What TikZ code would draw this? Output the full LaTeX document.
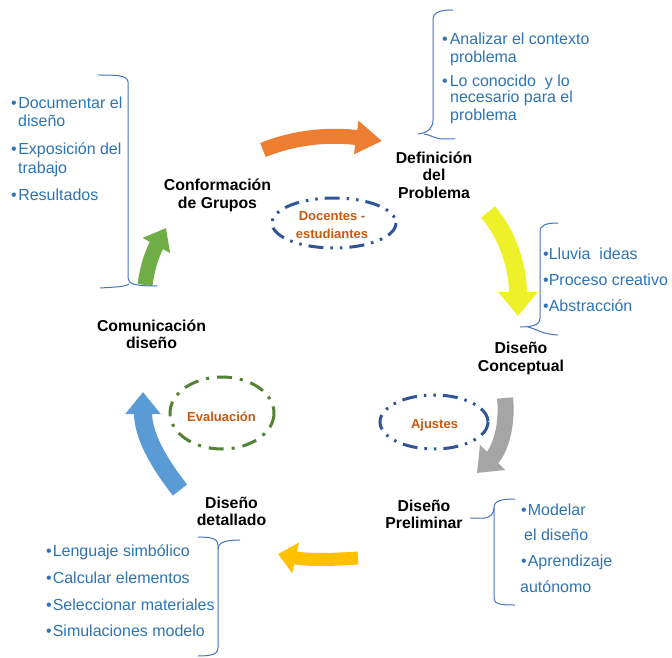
\documentclass[tikz,border=0pt]{standalone}
\usepackage{fontspec}
\setmainfont{Liberation Sans}
\usetikzlibrary{arrows.meta}
\definecolor{txtblue}{HTML}{2E74B5}
\definecolor{brc}{HTML}{4472C4}
\definecolor{ellblue}{HTML}{2F5597}
\definecolor{ellgreen}{HTML}{548235}
\definecolor{lblorange}{HTML}{C55A11}
\definecolor{arrorange}{HTML}{ED7D31}
\definecolor{arryellow}{HTML}{EEF02A}
\definecolor{arrgray}{HTML}{A5A5A5}
\definecolor{arrgold}{HTML}{FFC000}
\definecolor{arrblue}{HTML}{5B9BD5}
\definecolor{arrgreen}{HTML}{70AD47}
\begin{document}
\begin{tikzpicture}[x=1pt,y=-1pt,
 item/.style={font=\fontsize{16}{19}\selectfont, text=txtblue, anchor=base west, inner sep=0pt},
 lbl/.style={font=\bfseries\fontsize{15.8}{18}\selectfont, anchor=base, inner sep=0pt},
 elbl/.style={font=\bfseries\fontsize{13}{15}\selectfont, text=lblorange, anchor=base, inner sep=0pt},
 brace/.style={draw=brc, line width=1pt},
 ellb/.style={draw=ellblue, line width=3pt, dash pattern=on 15pt off 7pt on 2.5pt off 7pt on 2.5pt off 7pt},
 ellg/.style={draw=ellgreen, line width=3pt, dash pattern=on 15pt off 8pt on 3pt off 8pt},
]
\useasboundingbox[fill=white] (0,0) rectangle (672,658);

% ---- arrows ----
\draw[arrorange, line width=15pt, -{Triangle[length=26pt,width=32pt]}] (263,150) .. controls (295,137) and (330,134) .. (382,141);
\draw[arryellow, line width=18pt, -{Triangle[length=24pt,width=38pt]}] (488,212) .. controls (508,235) and (518,268) .. (518,316);
\draw[arrgray, line width=16pt, -{Triangle[length=22pt,width=34pt]}] (505,398) .. controls (508,425) and (500,450) .. (477,473);
\draw[arrgold, line width=13pt, -{Triangle[length=18pt,width=30pt]}] (358,558) .. controls (330,560) and (305,560) .. (278,554);
\draw[arrblue, line width=18pt, -{Triangle[length=22pt,width=34pt]}] (180,490) .. controls (158,462) and (143,435) .. (143,392);
\draw[arrgreen, line width=15pt, -{Triangle[length=20pt,width=30pt]}] (145,285) .. controls (148,262) and (155,248) .. (166,228);

% ---- ellipses ----
\draw[ellb] (334,223) ellipse [x radius=62, y radius=25];
\draw[ellb] (434,422) ellipse [x radius=54, y radius=27];
\draw[ellg] (222,413) ellipse [x radius=52, y radius=36];

\node[elbl] (e1a) at (332,220) {Docentes -};
\node[elbl] (e1b) at (332,238.3) {estudiantes};
\node[elbl] (e2) at (434.5,428.3) {Ajustes};
\node[elbl] (e3) at (221.5,421.7) {Evaluación};

% ---- stage labels ----
\node[lbl] (c1) at (217.5,190) {Conformación};
\node[lbl] (c2) at (217.5,208) {de Grupos};
\node[lbl] (d1) at (434,163.3) {Definición};
\node[lbl] (d2) at (434,180.5) {del};
\node[lbl] (d3) at (434,198.3) {Problema};
\node[lbl] (k1) at (521,353) {Diseño};
\node[lbl] (k2) at (521,371) {Conceptual};
\node[lbl] (p1) at (424,511.7) {Diseño};
\node[lbl] (p2) at (424,528.3) {Preliminar};
\node[lbl] (t1) at (231.5,508) {Diseño};
\node[lbl] (t2) at (231.5,525.5) {detallado};
\node[lbl] (m1) at (151.5,331.7) {Comunicación};
\node[lbl] (m2) at (151.5,348.3) {diseño};

% ---- braces ----
\draw[brace] (98,75) .. controls (115,75) and (128,75) .. (128,82) -- (128,278) .. controls (128,284) and (135,286) .. (157,286);
\draw[brace] (100,288) .. controls (115,287) and (125,287) .. (129,284);

\draw[brace] (453,10) .. controls (440,10) and (433,12) .. (433,20) -- (433,120) .. controls (433,128) and (428,133) .. (418,134);
\draw[brace] (424,134) .. controls (431,135) and (433,138) .. (442,139) -- (455,139);

\draw[brace] (558,223) .. controls (546,223) and (540,225) .. (540,232) -- (540,318) .. controls (540,324) and (535,327) .. (520,327);
\draw[brace] (528,327) .. controls (535,328) and (540,334) .. (558,335);

\draw[brace] (515,499) .. controls (500,499) and (494,501) .. (494,508) -- (494,598) .. controls (494,604) and (500,605) .. (515,605);
\draw[brace] (470,518) -- (485,518) .. controls (490,517) and (494,514) .. (494,508);

\draw[brace] (198,537) .. controls (212,537) and (218,539) .. (218,545) -- (218,648) .. controls (218,654) and (212,656) .. (198,656);
\draw[brace] (218,549) .. controls (218,543) and (224,540) .. (240,540);

% ---- item texts ----
\node[item] (a1) at (11,108.3) {•\kern1.5pt Documentar el};
\node[item] (a2) at (18,126.7) {diseño};
\node[item] (a3) at (11,155) {•\kern1.5pt Exposición del};
\node[item] (a4) at (18,173) {trabajo};
\node[item] (a5) at (11,200.7) {•\kern1.5pt Resultados};

\node[item] (b1) at (442,45) {•\kern2pt Analizar el contexto};
\node[item] (b2) at (450,62.5) {problema};
\node[item] (b3) at (442,86.5) {•\kern2pt Lo conocido\ \ y lo};
\node[item] (b4) at (450,103) {necesario para el};
\node[item] (b5) at (450,120.5) {problema};

\node[item] (g1) at (543,259) {•Lluvia\ \ ideas};
\node[item] (g2) at (543,285) {•Proceso creativo};
\node[item] (g3) at (543,311) {•Abstracción};

\node[item] (h1) at (521,515) {•\kern1pt Modelar};
\node[item] (h2) at (524,540) {el diseño};
\node[item] (h3) at (521,566) {•\kern1pt Aprendizaje};
\node[item] (h4) at (520,592.7) {autónomo};

\node[item] (j1) at (46,556.7) {•\kern1pt Lenguaje simbólico};
\node[item] (j2) at (46,583) {•\kern1pt Calcular elementos};
\node[item] (j3) at (46,610) {•\kern1pt Seleccionar materiales};
\node[item] (j4) at (46,636.7) {•\kern1pt Simulaciones modelo};
\end{tikzpicture}
\end{document}
